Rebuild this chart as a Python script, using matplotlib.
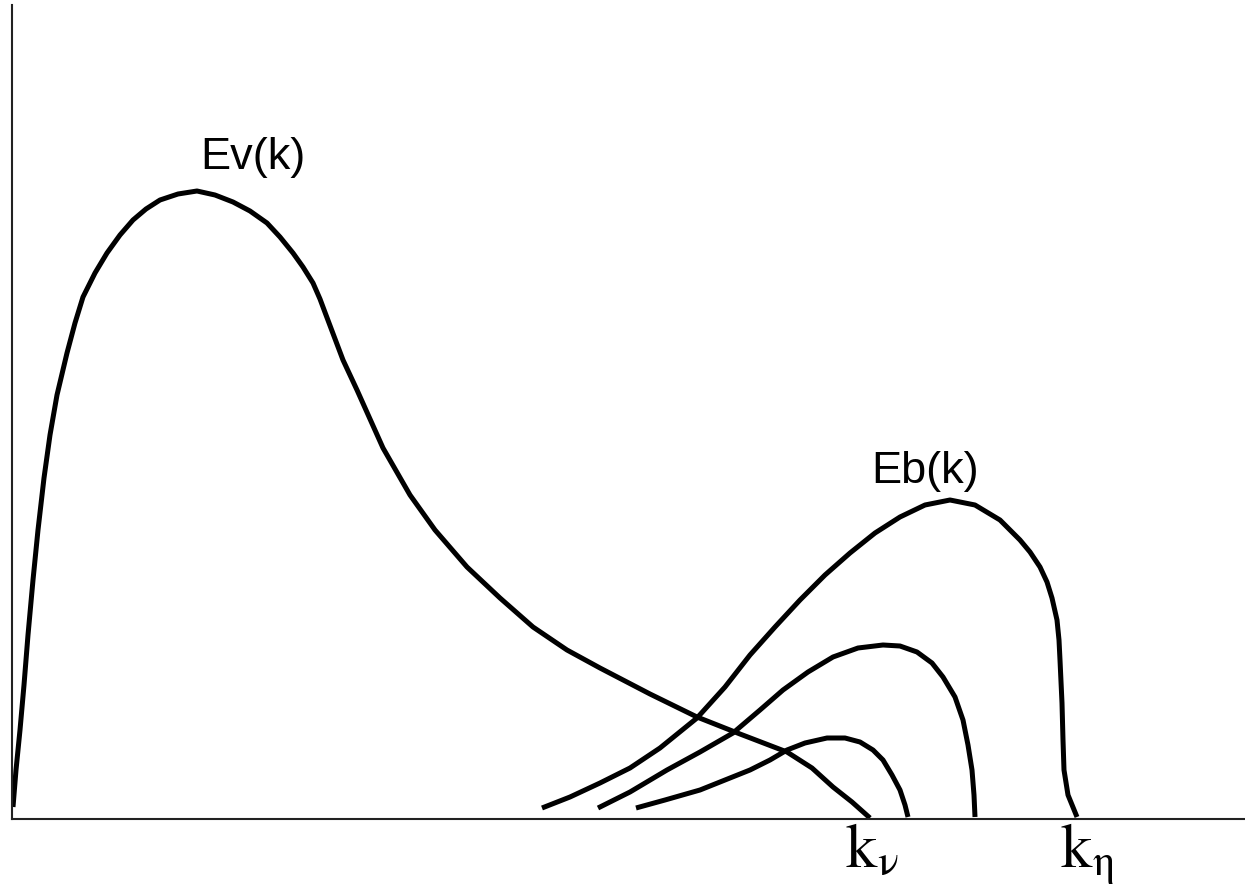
import matplotlib
matplotlib.use('Agg')
import matplotlib.pyplot as plt

plt.rcParams['mathtext.fontset'] = 'stix'

# kinetic energy spectrum Ev(k)
ev_k = [1, 4, 8, 12, 16, 21, 26, 32, 38, 45, 55, 63, 71, 83, 95, 108, 121,
        134, 148, 166, 185, 203, 221, 238, 255, 268, 281, 291, 301, 308, 314,
        331, 345, 371, 398, 423, 455, 488, 521, 555, 588, 638, 685, 728, 775,
        800, 821, 840, 858]
ev_e = [12, 49, 89, 134, 184, 239, 289, 341, 384, 424, 466, 496, 522, 546,
        566, 584, 599, 610, 619, 625, 628, 624, 617, 608, 596, 582, 566, 552,
        536, 520, 504, 459, 429, 371, 324, 289, 252, 221, 192, 169, 151, 125,
        102, 85, 67, 51, 32, 17, 1]

# magnetic spectra Eb(k), three stages of growth
eb_outer_k = [530, 558, 588, 618, 648, 685, 713, 738, 763, 788, 813, 838, 863,
              888, 913, 938, 963, 988, 1008, 1018, 1028, 1035, 1040, 1045,
              1047, 1048, 1050, 1051, 1052, 1056, 1065]
eb_outer_e = [11, 22, 36, 51, 71, 101, 132, 164, 192, 219, 244, 266, 286, 302,
              314, 319, 314, 299, 279, 267, 252, 237, 221, 199, 179, 159, 116,
              79, 49, 24, 2]

eb_mid_k = [586, 618, 655, 688, 721, 748, 771, 796, 821, 846, 871, 888, 905,
            920, 931, 943, 951, 956, 960, 962, 963]
eb_mid_e = [11, 27, 49, 67, 86, 109, 129, 147, 162, 171, 174, 173, 167, 156,
            142, 122, 99, 74, 49, 24, 2]

eb_small_k = [624, 653, 688, 713, 738, 758, 775, 793, 815, 833, 848, 861, 871,
              880, 888, 893, 896]
eb_small_e = [11, 19, 29, 39, 49, 59, 69, 76, 81, 81, 77, 69, 59, 44, 29, 14, 2]

k_nu = 833
k_eta = 1048

fig = plt.figure(figsize=(12.45, 8.86), dpi=100)
ax = fig.add_axes([12 / 1245, 67 / 886, 1233 / 1245, 814 / 886])

style = dict(color='black', lw=3.6, solid_capstyle='butt',
             solid_joinstyle='round')
ax.plot(ev_k, ev_e, **style)
ax.plot(eb_outer_k, eb_outer_e, **style)
ax.plot(eb_mid_k, eb_mid_e, **style)
ax.plot(eb_small_k, eb_small_e, **style)

ax.set_xlim(0, 1233)
ax.set_ylim(0, 814)
for side in ['top', 'right']:
    ax.spines[side].set_visible(False)
for side in ['left', 'bottom']:
    ax.spines[side].set_linewidth(1.5)
    ax.spines[side].set_color('#222222')
ax.set_xticks([])
ax.set_yticks([])

ax.text(241, 662, 'Ev(k)', fontsize=32.5, family='Liberation Sans',
        ha='center', va='center')
ax.text(913, 348, 'Eb(k)', fontsize=32.5, family='Liberation Sans',
        ha='center', va='center')

ax.text(k_nu, -48, r'$\mathrm{k}_{\mathrm{\nu}}$', fontsize=45,
        ha='left', va='baseline', clip_on=False)
ax.text(k_eta, -48, r'$\mathrm{k}_{\mathrm{\eta}}$', fontsize=45,
        ha='left', va='baseline', clip_on=False)

fig.savefig('out.png', dpi=100)
